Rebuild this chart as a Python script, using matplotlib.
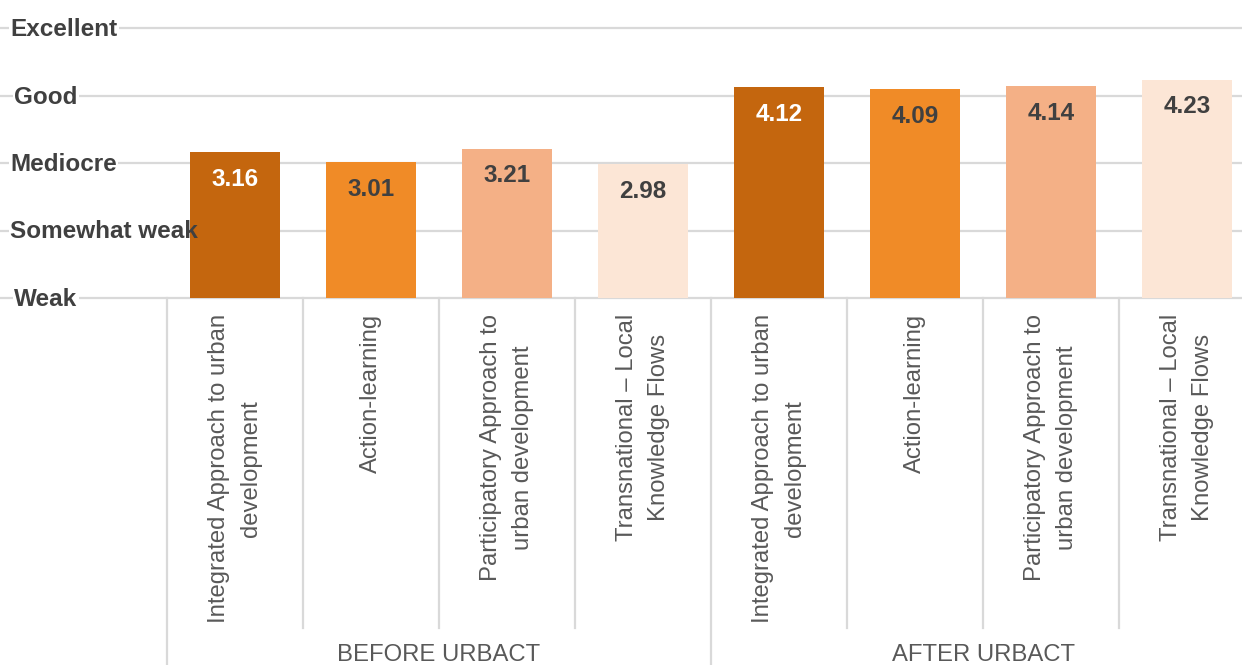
import matplotlib.pyplot as plt
from matplotlib.transforms import blended_transform_factory, offset_copy

# Data
groups = ["BEFORE URBACT", "AFTER URBACT"]
categories = [
    "Integrated Approach to urban\ndevelopment",
    "Action-learning",
    "Participatory Approach to\nurban development",
    "Transnational \u2013 Local\nKnowledge Flows",
]
before_values = [3.16, 3.01, 3.21, 2.98]
after_values = [4.12, 4.09, 4.14, 4.23]
level_labels = ["Weak", "Somewhat weak", "Mediocre", "Good", "Excellent"]
level_values = [1, 2, 3, 4, 5]

bar_colors = ["#C4660E", "#F08B27", "#F4B086", "#FCE6D6"]
value_text_colors = ["white", "#404040", "#404040", "#404040"]

plt.rcParams['font.family'] = ['Liberation Sans', 'DejaVu Sans']

W, H = 1242, 665
fig = plt.figure(figsize=(W / 100, H / 100), dpi=100)

# axes area: y from Weak gridline (px 298) to Excellent gridline (px 28)
ax = fig.add_axes([0, 1 - 298 / H, 1, 270 / H])
slot = 136.0
first_center = 235.0
ax.set_xlim(-first_center / slot, (W - first_center) / slot)
ax.set_ylim(level_values[0], level_values[-1])
ax.axis('off')

grid_color = "#D9D9D9"
text_dark = "#404040"
label_gray = "#595959"

# gridlines
for v in level_values:
    ax.axhline(v, color=grid_color, lw=1.6, zorder=1, clip_on=False)

values = before_values + after_values
n = len(values)
xs = list(range(n))
colors = bar_colors * len(groups)
ax.bar(xs, [v - level_values[0] for v in values], bottom=level_values[0],
       width=0.66, color=colors, zorder=3)

# value labels inside bars
for i, v in enumerate(values):
    ax.annotate(f"{v:.2f}", xy=(i, v), xytext=(0, -27),
                textcoords='offset pixels', ha='center', va='center',
                fontsize=17.5, fontweight='bold',
                color=value_text_colors[i % len(categories)], zorder=5)

# y level labels (white backing under bars, text above)
lab_tr = offset_copy(blended_transform_factory(fig.transFigure, ax.transData),
                     fig=fig, y=-1.5, units='dots')
for lab, v in zip(level_labels, level_values):
    x0 = 14 / W if lab in ("Good", "Weak") else 10 / W
    ax.text(x0, v, lab, transform=lab_tr, ha='left', va='center',
            fontsize=17.5, fontweight='bold', color='white',
            bbox=dict(facecolor='white', edgecolor='none', pad=1), zorder=2)
    ax.text(x0, v, lab, transform=lab_tr, ha='left', va='center',
            fontsize=17.5, fontweight='bold', color=text_dark, zorder=6)

# category labels (rotated)
xtr = blended_transform_factory(ax.transData, ax.transAxes)
for i in xs:
    ax.annotate(categories[i % len(categories)], xy=(i, 0), xycoords=xtr,
                xytext=(0, -16), textcoords='offset pixels',
                rotation=90, ha='center', va='top', multialignment='center',
                fontsize=17.2, color=label_gray, annotation_clip=False,
                linespacing=1.6)

# divider lines below the axis
fig_tr = blended_transform_factory(ax.transData, fig.transFigure)
inner_bottom = 1 - 628 / H
top = 1 - 298 / H
ng = len(categories)
for k in range(n + 1):
    xb = k - 0.5
    if k % ng == 0:
        ax.plot([xb, xb], [0, top], transform=fig_tr, color=grid_color,
                lw=1.6, clip_on=False, zorder=1)
    else:
        ax.plot([xb, xb], [inner_bottom, top], transform=fig_tr,
                color=grid_color, lw=1.6, clip_on=False, zorder=1)

# group labels
for g, name in enumerate(groups):
    xc = g * ng + (ng - 1) / 2
    ax.text(xc, 1 - 655 / H, name, transform=fig_tr, ha='center',
            va='center', fontsize=17.2, color=label_gray)

fig.savefig("out.png", dpi=100)
